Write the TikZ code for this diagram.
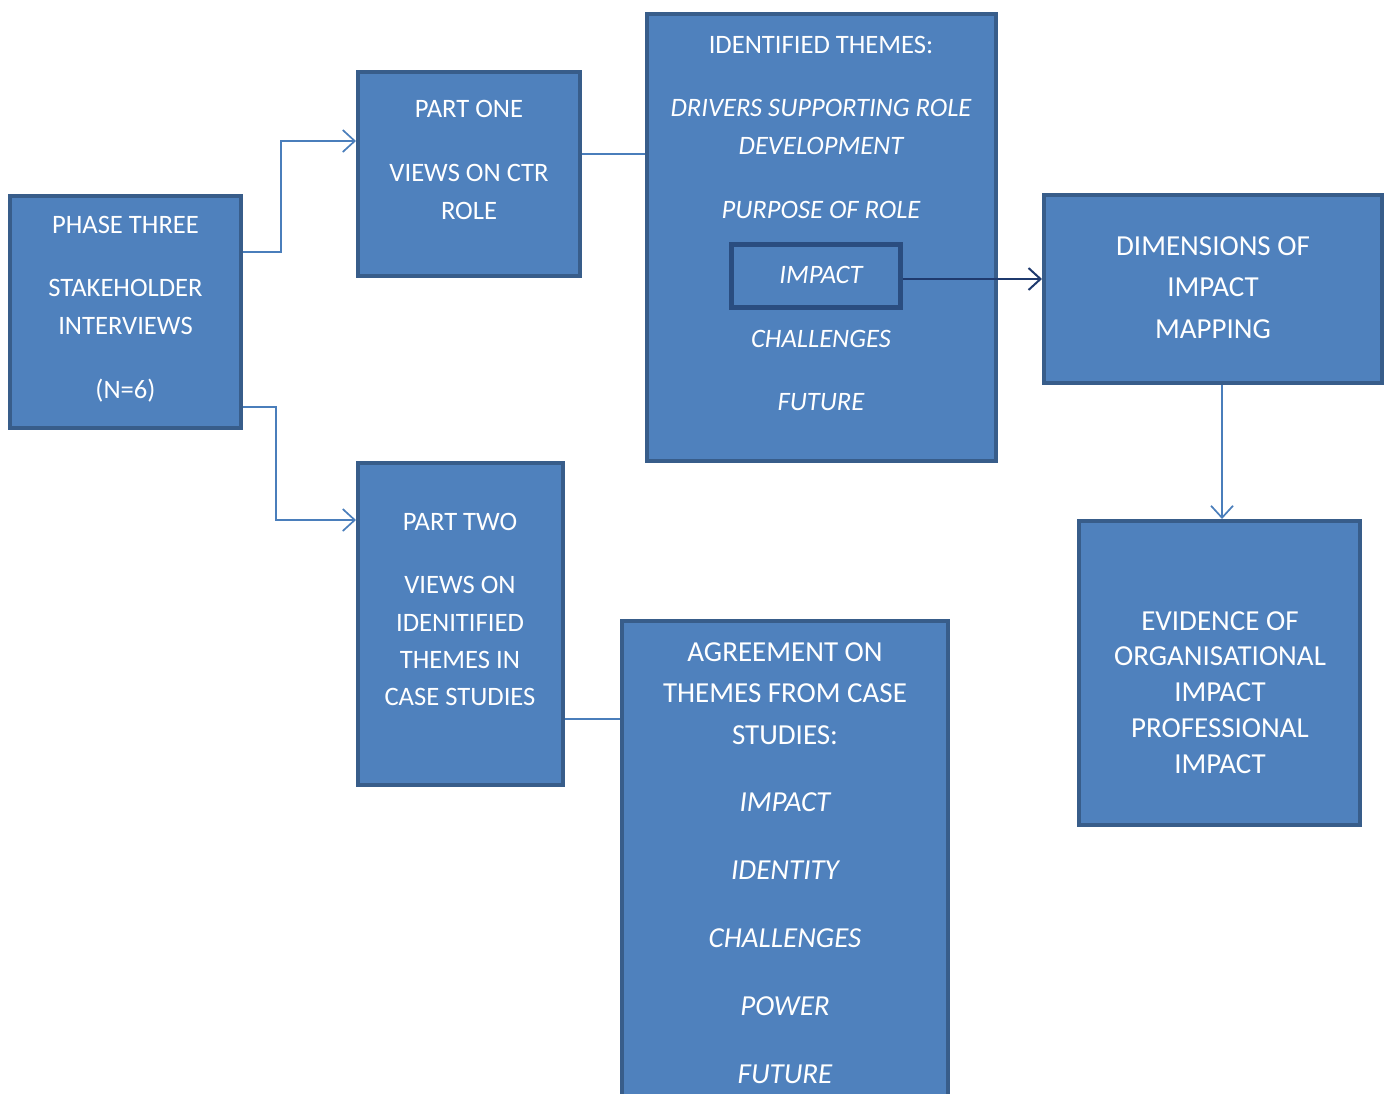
\documentclass[tikz,border=0pt]{standalone}
\usepackage{fontspec}
\setmainfont{Carlito}
\usepackage{xcolor}
\usetikzlibrary{arrows.meta}
\definecolor{boxfill}{HTML}{4F81BD}
\definecolor{boxline}{HTML}{385D8A}
\definecolor{innerline}{HTML}{2A4D80}
\definecolor{linkblue}{HTML}{4A7EBB}
\definecolor{navy}{HTML}{1F3A6E}
\tikzstyle{box} = [rectangle, fill=boxfill, draw=boxline, line width=2pt, inner sep=0pt]
\tikzstyle{txt} = [text=white, inner sep=0pt, text height=8pt, text depth=0pt, font=\fontsize{13.3}{16}\selectfont]
\tikzstyle{itxt} = [txt, font=\fontsize{13.3}{16}\selectfont\itshape]
\tikzstyle{bigtxt} = [txt, text height=9pt, font=\fontsize{14.5}{17}\selectfont]
\tikzstyle{bigitxt} = [bigtxt, font=\fontsize{14.5}{17}\selectfont\itshape]
\tikzstyle{link} = [draw=linkblue, line width=0.85pt]
\tikzstyle{arrow} = [link, -{Straight Barb[length=6pt,width=11pt]}]

\begin{document}
\begin{tikzpicture}[x=0.5pt, y=-0.5pt]
   \useasboundingbox (0,0) rectangle (1392,1093);
   \clip (0,0) rectangle (1392,1093);
   % boxes
   \node (phase) [box, minimum width=115.5pt, minimum height=116pt] at (125.5,312) {};
   \node (partone) [box, minimum width=111pt, minimum height=102pt] at (469,174) {};
   \node (themes) [box, minimum width=174.5pt, minimum height=223.5pt] at (821.5,237.5) {};
   \node (impact) [box, draw=innerline, line width=2.5pt, minimum width=84.5pt, minimum height=31.5pt] at (815.5,275.5) {};
   \node (dims) [box, minimum width=169pt, minimum height=94pt] at (1213,289) {};
   \node (evid) [box, minimum width=140.5pt, minimum height=152pt] at (1219.5,673) {};
   \node (parttwo) [box, minimum width=102.5pt, minimum height=161pt] at (460.5,624) {};
   \node (agree) [box, minimum width=163pt, minimum height=253.5pt] at (785,874.5) {};
   % texts
   \foreach \y/\lbl in {225/PHASE THREE, 288/STAKEHOLDER, 326/INTERVIEWS, 390/(N=6)}
      \node (phase-\y) [txt] at (125.5,\y) {\lbl};
   \foreach \y/\lbl in {109/PART ONE, 173/VIEWS ON CTR, 211/ROLE}
      \node (partone-\y) [txt] at (469,\y) {\lbl};
   \node (themes-45) [txt] at (821,45) {IDENTIFIED THEMES:};
   \foreach \y/\lbl in {108/DRIVERS SUPPORTING ROLE, 146/DEVELOPMENT, 210/PURPOSE OF ROLE, 275/IMPACT, 339/CHALLENGES, 402/FUTURE}
      \node (themes-\y) [itxt] at (821,\y) {\lbl};
   \foreach \y/\lbl in {246/DIMENSIONS OF, 287/IMPACT, 329/MAPPING}
      \node (dims-\y) [bigtxt] at (1213,\y) {\lbl};
   \foreach \y/\lbl in {621/EVIDENCE OF, 656/ORGANISATIONAL, 692/IMPACT, 728/PROFESSIONAL, 764/IMPACT}
      \node (evid-\y) [bigtxt] at (1220,\y) {\lbl};
   \foreach \y/\lbl in {522/PART TWO, 585/VIEWS ON, 623/IDENITIFIED, 660/THEMES IN, 697/CASE STUDIES}
      \node (parttwo-\y) [txt] at (460,\y) {\lbl};
   \foreach \y/\lbl in {652/AGREEMENT ON, 693/THEMES FROM CASE, 735/STUDIES:}
      \node (agree-\y) [bigtxt] at (785,\y) {\lbl};
   \foreach \y/\lbl in {802/IMPACT, 870/IDENTITY, 938/CHALLENGES, 1006/POWER, 1074/FUTURE}
      \node (agree-\y) [bigitxt] at (785,\y) {\lbl};
   % connectors
   \draw [arrow] ([yshift=30pt]phase.east) -- ++(19pt,0) |- ([yshift=16.5pt]partone.west);
   \draw [arrow] ([yshift=-47.5pt]phase.east) -- ++(16.5pt,0) |- ([yshift=52pt]parttwo.west);
   \coordinate (c1) at ([yshift=10pt]partone.east);
   \draw [link] (c1) -- (c1 -| themes.west);
   \coordinate (c4) at ([yshift=-1.75pt]impact.east);
   \draw [arrow, draw=navy, line width=1pt] (c4) -- (c4 -| dims.west);
   \coordinate (c2) at ([xshift=4.5pt]dims.south);
   \draw [arrow] (c2) -- (c2 |- evid.north);
   \coordinate (c3) at ([yshift=-47.5pt]parttwo.east);
   \draw [link] (c3) -- (c3 -| agree.west);
\end{tikzpicture}
\end{document}
